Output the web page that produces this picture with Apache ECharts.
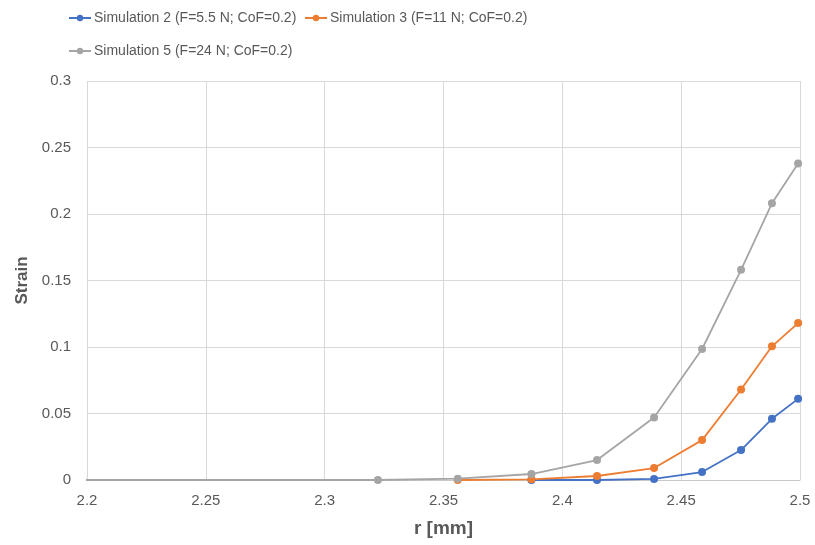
<!DOCTYPE html>
<html lang="en">
<head>
<meta charset="UTF-8">
<title>Strain vs r</title>
<script src="https://cdn.jsdelivr.net/npm/echarts@6/dist/echarts.min.js"></script>
<style>
  html, body { margin: 0; padding: 0; background: #fff; }
  #main { width: 815px; height: 545px; }
</style>
</head>
<body>
<div id="main"></div>
<script>
// series names
const names = [
  'Simulation 2 (F=5.5 N; CoF=0.2)',
  'Simulation 3 (F=11 N; CoF=0.2)',
  'Simulation 5 (F=24 N; CoF=0.2)'
];

// r [mm] / strain
const sim2R = [2.387, 2.4146, 2.4386, 2.4588, 2.4752, 2.4882, 2.4992];
const sim2S = [0, 0, 0.0008, 0.006, 0.0225, 0.046, 0.061];

const sim3R = [2.356, 2.387, 2.4146, 2.4386, 2.4588, 2.4752, 2.4882, 2.4992];
const sim3S = [0, 0.0005, 0.003, 0.009, 0.030, 0.068, 0.1005, 0.118];

const sim5R = [2.1, 2.3224, 2.356, 2.387, 2.4146, 2.4386, 2.4588, 2.4752, 2.4882, 2.4992];
const sim5S = [0, 0, 0.001, 0.0045, 0.015, 0.047, 0.0985, 0.158, 0.208, 0.238];

const colors = ['#4472C4', '#ED7D31', '#A5A5A5'];

const zip = (a, b) => a.map((v, i) => [v, b[i]]);
const font = '"Liberation Sans", Arial, sans-serif';
const txt = '#595959';

function lineSeries(name, r, s, color) {
  return {
    name: name,
    type: 'line',
    data: zip(r, s),
    symbol: 'circle',
    symbolSize: 8,
    showAllSymbol: true,
    clip: true,
    itemStyle: { color: color },
    lineStyle: { color: color, width: 1.8 },
    emphasis: { disabled: true }
  };
}

function legendAt(name, left, top) {
  return {
    data: [name],
    left: left, top: top,
    itemWidth: 22, itemHeight: 8, itemGap: 4,
    textStyle: { fontSize: 14, color: txt, fontFamily: font, padding: [0, 0, 0, -2] }
  };
}

let chartDom = document.getElementById('main');
let myChart = echarts.init(chartDom);
let option = {
  animation: false,
  textStyle: { fontFamily: font },
  legend: [
    legendAt(names[0], 63, 6),
    legendAt(names[1], 299, 6),
    legendAt(names[2], 63, 39)
  ],
  grid: { left: 87, right: 15, top: 81, bottom: 65, containLabel: false },
  xAxis: {
    type: 'value',
    min: 2.2, max: 2.5, interval: 0.05,
    name: 'r [mm]',
    nameLocation: 'middle',
    nameGap: 39,
    nameTextStyle: { fontSize: 19, fontWeight: 'bold', color: txt, fontFamily: font },
    axisLine: { show: true, lineStyle: { color: '#c8c8c8' } },
    axisTick: { show: false },
    axisLabel: {
      fontSize: 15, color: txt, margin: 13,
      formatter: v => String(parseFloat(v.toFixed(2)))
    },
    splitLine: { show: true, lineStyle: { color: '#d9d9d9' } }
  },
  yAxis: {
    type: 'value',
    min: 0, max: 0.3, interval: 0.05,
    name: 'Strain',
    nameLocation: 'middle',
    nameGap: 55,
    nameTextStyle: { fontSize: 17, fontWeight: 'bold', color: txt, fontFamily: font },
    axisLine: { show: false },
    axisTick: { show: false },
    axisLabel: {
      fontSize: 15, color: txt, margin: 16,
      formatter: v => String(parseFloat(v.toFixed(2)))
    },
    splitLine: { show: true, lineStyle: { color: '#d9d9d9' } }
  },
  series: [
    lineSeries(names[0], sim2R, sim2S, colors[0]),
    lineSeries(names[1], sim3R, sim3S, colors[1]),
    lineSeries(names[2], sim5R, sim5S, colors[2])
  ]
};
option && myChart.setOption(option);
</script>
</body>
</html>
